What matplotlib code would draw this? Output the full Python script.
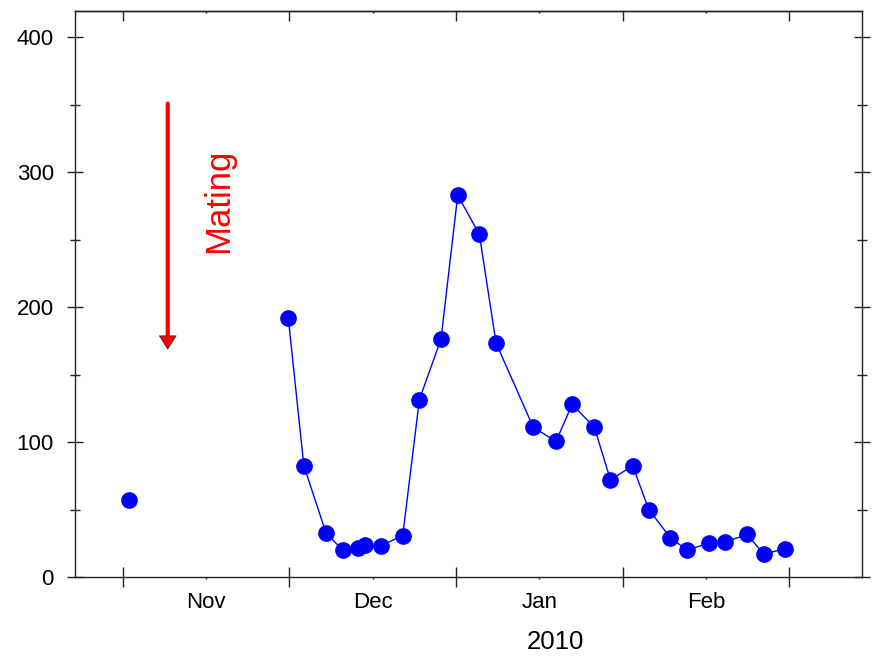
import matplotlib
matplotlib.use("Agg")
import matplotlib.pyplot as plt

plt.rcParams['font.family'] = ['Liberation Sans', 'DejaVu Sans']

# days counted from 1 Nov (month boundaries drawn every 30 days)
first_day = [1.2]
first_count = [57]

days = [29.8, 32.6, 36.6, 39.6, 42.4, 43.6, 46.5, 50.4, 53.4, 57.3,
        60.3, 64.2, 67.2, 73.9, 78.0, 80.9, 84.9, 87.8, 91.8, 94.7,
        98.6, 101.6, 105.5, 108.5, 112.4, 115.4, 119.3]
counts = [192, 82.5, 32.5, 20, 21.3, 23.5, 23.2, 30.7, 131.5, 176.5,
          283, 254, 173.5, 111, 100.5, 128, 111, 72, 82.5, 50,
          29, 20, 25, 26, 31.5, 17, 21]

month_edges = [0, 30, 60, 90, 120]
month_mids = [15, 45, 75, 105]
month_names = ['Nov', 'Dec', 'Jan', 'Feb']
y_major = [0, 100, 200, 300, 400]
y_minor = [50, 150, 250, 350]

mating_day = 8.1
mating_top, mating_tip = 351, 168.5

fig = plt.figure(figsize=(8.72, 6.57), dpi=100)
ax = fig.add_axes([0.086, 0.1218, 0.902, 0.8622])

ax.plot(first_day, first_count, 'o', color='#0000ff', ms=11)
ax.plot(days, counts, '-o', color='#0000ff', lw=1.0, ms=11)

# mating arrow: red shaft, outlined head
head_base = mating_tip + 9.8
ax.annotate('', xy=(mating_day, head_base), xytext=(mating_day, mating_top),
            arrowprops=dict(arrowstyle='-', color='#ff0000', lw=3,
                            shrinkA=0, shrinkB=0))
ax.annotate('', xy=(mating_day, mating_tip), xytext=(mating_day, head_base),
            arrowprops=dict(arrowstyle='-|>,head_length=0.47,head_width=0.3',
                            mutation_scale=20, facecolor='#ff0000',
                            edgecolor='#333333', lw=0.6,
                            shrinkA=0, shrinkB=0))
ax.text(17.2, 278.6, 'Mating', rotation=90, color='#ff0000', fontsize=25,
        ha='center', va='center')

ax.set_xlim(-8.6, 133.0)
ax.set_ylim(0, 420)

ax.set_xticks(month_edges)
ax.set_xticklabels([])
ax.set_xticks(month_mids, minor=True)
ax.set_xticklabels(month_names, minor=True, fontsize=16)
ax.set_yticks(y_major)
ax.set_yticklabels([str(v) for v in y_major], fontsize=16)
ax.set_yticks(y_minor, minor=True)

edge = '#222222'
for s in ax.spines.values():
    s.set_linewidth(1.0)
    s.set_color(edge)

ax.tick_params(axis='y', which='major', direction='inout', length=11.5,
               width=1.0, color=edge, pad=9.5, left=True, right=True)
ax.tick_params(axis='y', which='minor', direction='inout', length=7,
               width=1.0, color=edge, left=True, right=True)
ax.tick_params(axis='x', which='major', direction='inout', length=15,
               width=1.0, color=edge, top=False)
ax.tick_params(axis='x', which='minor', direction='out', length=1.5,
               width=1.0, color=edge, pad=9.5, top=False)

# top axis carries only inward ticks
top = ax.secondary_xaxis('top')
top.set_xticks(month_edges)
top.set_xticks(month_mids, minor=True)
top.tick_params(which='major', direction='in', length=7, width=1.0,
                color=edge, labeltop=False)
top.tick_params(which='minor', direction='in', length=1.5, width=1.0,
                color=edge, labeltop=False)
top.spines['top'].set_linewidth(1.0)
top.spines['top'].set_color(edge)

ax.text(0.611, -0.115, '2010', transform=ax.transAxes, fontsize=18.5,
        ha='center', va='center')

fig.savefig('out.png', dpi=100)
